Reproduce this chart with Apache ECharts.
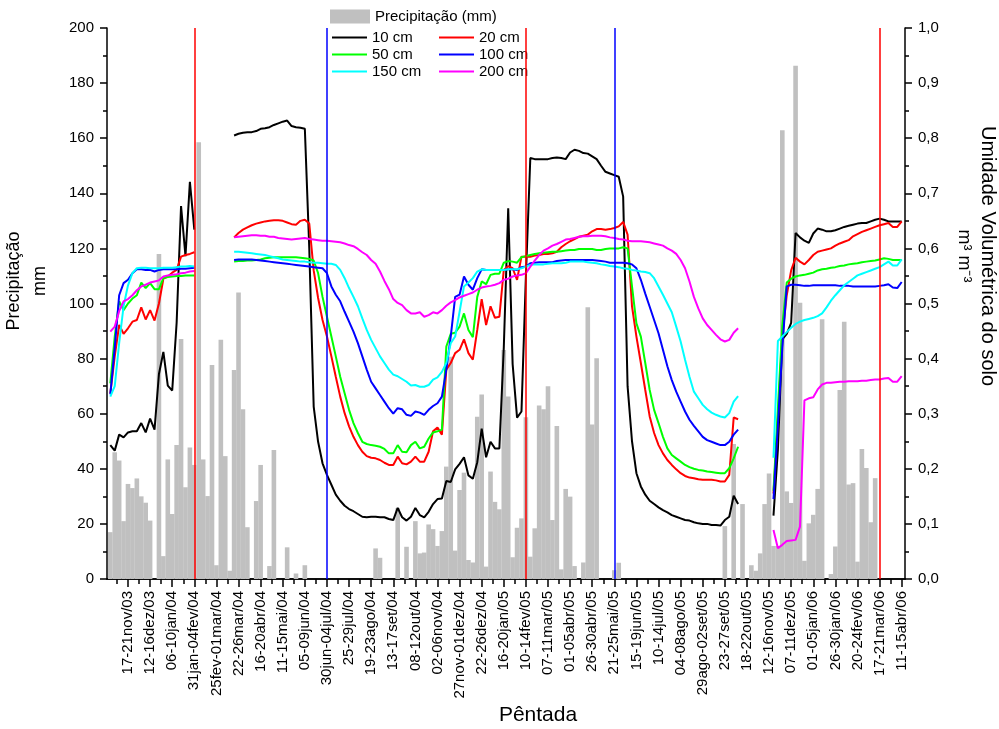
<!DOCTYPE html>
<html>
<head>
<meta charset="utf-8">
<script src="https://cdn.jsdelivr.net/npm/echarts@6.0.0/dist/echarts.min.js"></script>
<style>
  html, body { margin: 0; padding: 0; background: #fff; }
  #main { width: 999px; height: 729px; }
</style>
</head>
<body>
<div id="main"></div>
<script>
// pentads are numbered from 17-21nov/03 = 0; the first value is pentad -4
var firstPentad = -4

var tickLabels = ['17-21nov/03', '12-16dez/03', '06-10jan/04', '31jan-04fev/04', '25fev-01mar/04',
  '22-26mar/04', '16-20abr/04', '11-15mai/04', '05-09jun/04', '30jun-04jul/04', '25-29jul/04',
  '19-23ago/04', '13-17set/04', '08-12out/04', '02-06nov/04', '27nov-01dez/04', '22-26dez/04',
  '16-20jan/05', '10-14fev/05', '07-11mar/05', '01-05abr/05', '26-30abr/05', '21-25mai/05',
  '15-19jun/05', '10-14jul/05', '04-08ago/05', '29ago-02set/05', '23-27set/05', '18-22out/05',
  '12-16nov/05', '07-11dez/05', '01-05jan/06', '26-30jan/06', '20-24fev/06', '17-21mar/06',
  '11-15abr/06']

// precipitation per pentad (mm)
var precip = [
  17, 46, 43, 21, 34.5, 33, 36.5, 30, 27.7, 21.2,
  0, 118, 8.3, 43.4, 23.6, 48.6, 87.1, 33.3, 47.7, 41.4,
  158.5, 43.4, 30.1, 77.7, 5, 86.8, 44.6, 3, 75.9, 104,
  61.6, 18.8, 0, 28.3, 41.4, 0, 4.7, 46.8, 0, 0,
  11.5, 0, 2, 0, 5, 0, 0, 0, 0, 0,
  0, 0, 0, 0, 0, 0, 0, 0, 0, 0,
  11.1, 7.7, 0, 0, 0, 25.7, 0, 11.7, 0, 21,
  9.3, 9.6, 19.8, 18.1, 12, 17.4, 40.8, 80.7, 10.3, 32.3,
  38.6, 6.9, 6, 58.9, 67, 4.5, 39, 28, 25.3, 83.1,
  66.2, 7.9, 18.6, 22, 58.7, 8.1, 18.4, 63, 61.6, 70,
  21.4, 55.5, 3.5, 32.7, 29.9, 4.7, 0, 6, 98.6, 56.1,
  80.1, 0, 0, 0, 3.2, 5.9, 0, 0, 0, 0,
  0, 0, 0, 0, 0, 0, 0, 0, 0, 0,
  0, 0, 0, 0, 0, 0, 0, 0, 0, 19.2,
  0, 49, 0, 27.2, 0, 5, 3, 9.3, 27.2, 38.3,
  12, 12, 162.9, 31.8, 27.6, 186.3, 100.3, 6.6, 20.2, 23.3,
  32.7, 94.3, 0, 1.8, 11.8, 68.6, 93.4, 34.3, 34.8, 6.3,
  47.2, 40.3, 20.6, 36.6, 0, 0, 0, 0, 0, 0
]

// soil moisture (m3 m-3) per depth
var h10 = [
  0.243, 0.233, 0.262, 0.257, 0.266, 0.268, 0.268, 0.283, 0.266, 0.291,
  0.271, 0.372, 0.412, 0.351, 0.342, 0.465, 0.677, 0.586, 0.721, 0.634,
  null, null, null, null, null, null, null, null,
  0.805, 0.808, 0.810, 0.811, 0.811, 0.813, 0.817, 0.818, 0.820, 0.824,
  0.827, 0.830, 0.832, 0.822, 0.820, 0.819, 0.817, 0.600, 0.313, 0.249,
  0.210, 0.189, 0.171, 0.153, 0.142, 0.133, 0.127, 0.123, 0.118, 0.113,
  0.112, 0.113, 0.113, 0.112, 0.112, 0.109, 0.107, 0.129, 0.112, 0.106,
  0.113, 0.129, 0.116, 0.112, 0.122, 0.136, 0.145, 0.146, 0.178, 0.176,
  0.199, 0.209, 0.221, 0.188, 0.182, 0.212, 0.273, 0.221, 0.249, 0.237,
  0.237, 0.420, 0.673, 0.390, 0.293, 0.304, 0.550, 0.764, 0.762, 0.762,
  0.762, 0.762, 0.764, 0.765, 0.764, 0.762, 0.774, 0.779, 0.777, 0.773,
  0.772, 0.767, 0.762, 0.750, 0.739, 0.736, 0.733, 0.730, 0.694, 0.350,
  0.250, 0.192, 0.168, 0.153, 0.142, 0.136, 0.130, 0.125, 0.121, 0.116,
  0.113, 0.110, 0.107, 0.106, 0.103, 0.101, 0.100, 0.100, 0.098, 0.098,
  0.097, 0.107, 0.113, 0.151, 0.136,
  null, null, null, null, null, null, null,
  0.115, 0.235, 0.435, 0.445, 0.465, 0.628, 0.620, 0.614, 0.610, 0.627,
  0.636, 0.634, 0.631, 0.631, 0.633, 0.636, 0.639, 0.641, 0.643, 0.645,
  0.646, 0.646, 0.649, 0.652, 0.654, 0.652, 0.649, 0.649, 0.649, 0.649
]
var h20 = [
  0.337, 0.404, 0.461, 0.445, 0.455, 0.467, 0.470, 0.493, 0.471, 0.488,
  0.469, 0.500, 0.545, 0.549, 0.556, 0.561, 0.585, 0.588, 0.590, 0.593,
  null, null, null, null, null, null, null, null,
  0.620, 0.628, 0.634, 0.638, 0.642, 0.645, 0.647, 0.649, 0.650, 0.651,
  0.651, 0.650, 0.647, 0.644, 0.643, 0.650, 0.652, 0.645, 0.560, 0.510,
  0.470, 0.440, 0.404, 0.367, 0.331, 0.301, 0.277, 0.258, 0.243, 0.231,
  0.223, 0.220, 0.219, 0.216, 0.211, 0.207, 0.207, 0.222, 0.210, 0.208,
  0.213, 0.222, 0.213, 0.213, 0.231, 0.268, 0.275, 0.262, 0.380, 0.392,
  0.410, 0.416, 0.435, 0.410, 0.398, 0.452, 0.508, 0.461, 0.495, 0.474,
  0.476, 0.561, 0.568, 0.564, 0.543, 0.585, 0.585, 0.585, 0.587, 0.588,
  0.590, 0.590, 0.591, 0.594, 0.602, 0.608, 0.613, 0.617, 0.621, 0.623,
  0.625, 0.631, 0.635, 0.635, 0.634, 0.635, 0.637, 0.640, 0.648, 0.625,
  0.495, 0.440, 0.392, 0.343, 0.295, 0.265, 0.243, 0.228, 0.216, 0.207,
  0.199, 0.192, 0.187, 0.184, 0.183, 0.181, 0.180, 0.180, 0.180, 0.179,
  0.177, 0.177, 0.189, 0.293, 0.290,
  null, null, null, null, null, null, null,
  0.155, 0.290, 0.440, 0.515, 0.560, 0.583, 0.576, 0.571, 0.579, 0.588,
  0.594, 0.596, 0.598, 0.600, 0.605, 0.609, 0.612, 0.615, 0.622, 0.626,
  0.630, 0.633, 0.636, 0.639, 0.642, 0.644, 0.646, 0.639, 0.639, 0.649
]
var h50 = [
  0.355, 0.440, 0.504, 0.488, 0.500, 0.509, 0.515, 0.538, 0.528, 0.537,
  0.526, 0.526, 0.546, 0.548, 0.549, 0.550, 0.550, 0.551, 0.551, 0.551,
  null, null, null, null, null, null, null, null,
  0.576, 0.577, 0.577, 0.578, 0.578, 0.579, 0.580, 0.582, 0.583, 0.584,
  0.584, 0.584, 0.584, 0.584, 0.584, 0.583, 0.582, 0.581, 0.578, 0.555,
  0.512, 0.476, 0.440, 0.404, 0.367, 0.337, 0.307, 0.283, 0.265, 0.249,
  0.245, 0.243, 0.242, 0.240, 0.236, 0.228, 0.228, 0.243, 0.231, 0.230,
  0.243, 0.249, 0.237, 0.240, 0.255, 0.266, 0.268, 0.271, 0.422, 0.445,
  0.447, 0.458, 0.482, 0.452, 0.439, 0.512, 0.540, 0.535, 0.552, 0.554,
  0.554, 0.574, 0.577, 0.576, 0.574, 0.584, 0.586, 0.588, 0.590, 0.591,
  0.592, 0.593, 0.594, 0.594, 0.595, 0.596, 0.597, 0.597, 0.599, 0.599,
  0.599, 0.599, 0.597, 0.597, 0.599, 0.600, 0.600, 0.600, 0.602, 0.600,
  0.531, 0.464, 0.440, 0.392, 0.343, 0.307, 0.283, 0.258, 0.237, 0.225,
  0.219, 0.213, 0.207, 0.203, 0.200, 0.198, 0.197, 0.195, 0.194, 0.193,
  0.192, 0.192, 0.201, 0.219, 0.240,
  null, null, null, null, null, null, null,
  0.160, 0.310, 0.460, 0.538, 0.545, 0.549, 0.551, 0.552, 0.554, 0.556,
  0.560, 0.562, 0.563, 0.565, 0.566, 0.568, 0.569, 0.571, 0.572, 0.573,
  0.575, 0.576, 0.577, 0.578, 0.580, 0.582, 0.581, 0.579, 0.579, 0.579
]
var h100 = [
  0.335, 0.420, 0.515, 0.537, 0.543, 0.555, 0.562, 0.562, 0.561, 0.561,
  0.558, 0.561, 0.562, 0.562, 0.562, 0.562, 0.563, 0.563, 0.564, 0.565,
  null, null, null, null, null, null, null, null,
  0.579, 0.580, 0.580, 0.580, 0.580, 0.579, 0.578, 0.577, 0.576, 0.575,
  0.574, 0.573, 0.572, 0.571, 0.570, 0.569, 0.568, 0.567, 0.566, 0.565,
  0.564, 0.555, 0.531, 0.516, 0.504, 0.485, 0.467, 0.449, 0.428, 0.404,
  0.380, 0.358, 0.346, 0.334, 0.322, 0.310, 0.300, 0.310, 0.308, 0.298,
  0.296, 0.304, 0.302, 0.298, 0.307, 0.314, 0.319, 0.331, 0.380, 0.440,
  0.512, 0.516, 0.549, 0.534, 0.525, 0.546, 0.562, 0.561, 0.561, 0.561,
  0.561, 0.561, 0.562, 0.562, 0.561, 0.566, 0.567, 0.573, 0.574, 0.575,
  0.575, 0.575, 0.575, 0.577, 0.578, 0.579, 0.579, 0.579, 0.579, 0.579,
  0.579, 0.579, 0.578, 0.577, 0.576, 0.574, 0.574, 0.574, 0.574, 0.573,
  0.571, 0.564, 0.543, 0.518, 0.494, 0.470, 0.446, 0.416, 0.386, 0.361,
  0.340, 0.322, 0.304, 0.289, 0.278, 0.268, 0.258, 0.252, 0.249, 0.246,
  0.243, 0.243, 0.249, 0.262, 0.271,
  null, null, null, null, null, null, null,
  0.145, 0.280, 0.420, 0.531, 0.534, 0.534, 0.533, 0.532, 0.532, 0.533,
  0.533, 0.533, 0.533, 0.533, 0.533, 0.532, 0.532, 0.532, 0.531, 0.531,
  0.531, 0.531, 0.531, 0.531, 0.532, 0.533, 0.535, 0.529, 0.528, 0.539
]
var h150 = [
  0.331, 0.350, 0.428, 0.495, 0.533, 0.555, 0.564, 0.565, 0.565, 0.564,
  0.564, 0.564, 0.565, 0.565, 0.565, 0.566, 0.567, 0.567, 0.568, 0.567,
  null, null, null, null, null, null, null, null,
  0.594, 0.594, 0.593, 0.592, 0.591, 0.590, 0.589, 0.588, 0.586, 0.584,
  0.582, 0.580, 0.579, 0.578, 0.577, 0.576, 0.576, 0.575, 0.574, 0.574,
  0.573, 0.572, 0.572, 0.570, 0.561, 0.546, 0.528, 0.512, 0.495, 0.473,
  0.452, 0.434, 0.419, 0.404, 0.392, 0.380, 0.371, 0.368, 0.363, 0.358,
  0.351, 0.352, 0.349, 0.349, 0.352, 0.362, 0.366, 0.376, 0.392, 0.428,
  0.440, 0.485, 0.531, 0.538, 0.546, 0.558, 0.562, 0.561, 0.561, 0.561,
  0.561, 0.561, 0.562, 0.562, 0.562, 0.564, 0.567, 0.570, 0.571, 0.571,
  0.571, 0.572, 0.573, 0.573, 0.573, 0.574, 0.576, 0.576, 0.576, 0.576,
  0.575, 0.574, 0.573, 0.571, 0.570, 0.568, 0.567, 0.566, 0.564, 0.563,
  0.561, 0.560, 0.558, 0.557, 0.555, 0.546, 0.531, 0.516, 0.500, 0.484,
  0.458, 0.431, 0.398, 0.367, 0.340, 0.328, 0.316, 0.308, 0.302, 0.298,
  0.295, 0.293, 0.301, 0.322, 0.332,
  null, null, null, null, null, null, null,
  0.220, 0.432, 0.440, 0.448, 0.456, 0.463, 0.467, 0.470, 0.472, 0.474,
  0.477, 0.482, 0.493, 0.505, 0.515, 0.524, 0.533, 0.539, 0.545, 0.551,
  0.554, 0.557, 0.560, 0.563, 0.566, 0.571, 0.576, 0.569, 0.569, 0.580
]
var h200 = [
  0.449, 0.458, 0.486, 0.504, 0.508, 0.515, 0.524, 0.531, 0.534, 0.538,
  0.540, 0.542, 0.549, 0.551, 0.552, 0.553, 0.555, 0.556, 0.558, 0.559,
  null, null, null, null, null, null, null, null,
  0.620, 0.621, 0.622, 0.623, 0.624, 0.624, 0.623, 0.623, 0.621, 0.621,
  0.619, 0.618, 0.617, 0.616, 0.617, 0.618, 0.619, 0.617, 0.616, 0.615,
  0.614, 0.614, 0.613, 0.612, 0.611, 0.609, 0.606, 0.604, 0.599, 0.593,
  0.588, 0.579, 0.572, 0.558, 0.541, 0.526, 0.508, 0.501, 0.497, 0.488,
  0.482, 0.482, 0.484, 0.476, 0.479, 0.484, 0.482, 0.488, 0.496, 0.502,
  0.506, 0.511, 0.514, 0.517, 0.520, 0.525, 0.529, 0.531, 0.532, 0.534,
  0.537, 0.543, 0.545, 0.549, 0.551, 0.552, 0.555, 0.567, 0.578, 0.588,
  0.596, 0.600, 0.605, 0.608, 0.612, 0.616, 0.617, 0.619, 0.621, 0.622,
  0.622, 0.623, 0.623, 0.623, 0.622, 0.620, 0.619, 0.617, 0.616, 0.614,
  0.613, 0.613, 0.613, 0.612, 0.611, 0.609, 0.607, 0.605, 0.600, 0.596,
  0.590, 0.579, 0.564, 0.540, 0.512, 0.491, 0.473, 0.461, 0.452, 0.443,
  0.435, 0.431, 0.434, 0.447, 0.455,
  null, null, null, null, null, null, null,
  0.089, 0.056, 0.062, 0.069, 0.070, 0.071, 0.095, 0.324, 0.328, 0.330,
  0.344, 0.353, 0.356, 0.356, 0.357, 0.358, 0.358, 0.359, 0.359, 0.359,
  0.360, 0.360, 0.361, 0.362, 0.362, 0.364, 0.365, 0.358, 0.358, 0.368
]

// vertical marker lines (pentad numbers)
var redMarks = [15, 90, 170]
var blueMarks = [45, 110]

var font = "'Liberation Sans', Arial, sans-serif"

function pairs(arr) {
  return arr.map(function (v, k) { return [k + firstPentad, v === null ? '-' : v] })
}

var majorTicks = tickLabels.map(function (t, k) { return k * 5 })
var minorTicks = [-2.5].concat(majorTicks.slice(0, -1).map(function (v) { return v + 2.5 }))

function lineSeries(name, color, data) {
  return {
    name: name,
    type: 'line',
    xAxisIndex: 0,
    yAxisIndex: 1,
    symbol: 'none',
    connectNulls: false,
    lineStyle: { color: color, width: 2 },
    itemStyle: { color: color },
    data: pairs(data),
    z: 3
  }
}

var marks = redMarks.map(function (x) { return { xAxis: x, lineStyle: { color: '#ff0000' } } })
  .concat(blueMarks.map(function (x) { return { xAxis: x, lineStyle: { color: '#0000ff' } } }))

var legendText = { fontSize: 15, fontFamily: font, color: '#000' }

var myChart = echarts.init(document.getElementById('main'))
myChart.setOption({
  animation: false,
  textStyle: { fontFamily: font, color: '#000' },
  grid: { left: 107, right: 94, top: 28, bottom: 150 },
  legend: [
    {
      data: ['Precipitação (mm)'], left: 330, top: 9, padding: 0,
      itemWidth: 40, itemHeight: 14, icon: 'rect', textStyle: legendText
    },
    {
      data: ['10 cm', '50 cm', '150 cm'], orient: 'vertical', left: 332, top: 30, padding: 0,
      icon: 'rect', itemWidth: 35, itemHeight: 2, itemGap: 2, textStyle: legendText
    },
    {
      data: ['20 cm', '100 cm', '200 cm'], orient: 'vertical', left: 439, top: 30, padding: 0,
      icon: 'rect', itemWidth: 35, itemHeight: 2, itemGap: 2, textStyle: legendText
    }
  ],
  xAxis: [
    {
      type: 'value', min: -4.75, max: 175.75,
      axisLine: { onZero: false, lineStyle: { color: '#000', width: 1.5 } },
      axisTick: { customValues: majorTicks, length: 8, lineStyle: { color: '#000', width: 1.5 } },
      axisLabel: {
        customValues: majorTicks, rotate: 90, margin: 12, fontSize: 15, fontFamily: font, color: '#000',
        formatter: function (v) { return tickLabels[Math.round(v / 5)] || '' }
      },
      splitLine: { show: false }
    },
    {
      type: 'value', min: -4.75, max: 175.75, position: 'bottom',
      axisLine: { show: true, onZero: false, lineStyle: { color: '#000', width: 1.5 } },
      axisTick: { customValues: minorTicks, length: 5, lineStyle: { color: '#000', width: 1.5 } },
      axisLabel: { show: false },
      splitLine: { show: false }
    }
  ],
  yAxis: [
    {
      type: 'value', min: 0, max: 200, interval: 20,
      axisLine: { show: true, onZero: false, lineStyle: { color: '#000', width: 1.5 } },
      axisTick: { show: true, length: 7, lineStyle: { color: '#000', width: 1.5 } },
      minorTick: { show: true, splitNumber: 2, length: 4, lineStyle: { color: '#000', width: 1.5 } },
      axisLabel: { margin: 13, fontSize: 15, fontFamily: font, color: '#000' },
      splitLine: { show: false }
    },
    {
      type: 'value', min: 0, max: 1, interval: 0.1, position: 'right',
      axisLine: { show: true, onZero: false, lineStyle: { color: '#000', width: 1.5 } },
      axisTick: { show: true, length: 7, lineStyle: { color: '#000', width: 1.5 } },
      minorTick: { show: true, splitNumber: 2, length: 4, lineStyle: { color: '#000', width: 1.5 } },
      axisLabel: {
        margin: 13, fontSize: 15, fontFamily: font, color: '#000',
        formatter: function (v) { return v.toFixed(1).replace('.', ',') }
      },
      splitLine: { show: false }
    }
  ],
  graphic: [
    { type: 'text', x: 14, y: 281, rotation: Math.PI / 2,
      style: { text: 'Precipitação', font: '18px ' + font, fill: '#000', textAlign: 'center', textVerticalAlign: 'middle' } },
    { type: 'text', x: 40, y: 281, rotation: Math.PI / 2,
      style: { text: 'mm', font: '18px ' + font, fill: '#000', textAlign: 'center', textVerticalAlign: 'middle' } },
    { type: 'text', x: 988, y: 256, rotation: -Math.PI / 2,
      style: { text: 'Umidade Volumétrica do solo', font: '20px ' + font, fill: '#000', textAlign: 'center', textVerticalAlign: 'middle' } },
    { type: 'text', x: 964, y: 256, rotation: -Math.PI / 2,
      style: { text: 'm³ m⁻³', font: '18px ' + font, fill: '#000', textAlign: 'center', textVerticalAlign: 'middle' } },
    { type: 'text', x: 538, y: 715,
      style: { text: 'Pêntada', font: '21px ' + font, fill: '#000', textAlign: 'center', textVerticalAlign: 'middle' } }
  ],
  series: [
    {
      name: 'Precipitação (mm)',
      type: 'bar',
      xAxisIndex: 0,
      yAxisIndex: 0,
      barWidth: 4.6,
      itemStyle: { color: '#c0c0c0' },
      data: pairs(precip),
      z: 1,
      markLine: {
        silent: true,
        symbol: ['none', 'none'],
        label: { show: false },
        lineStyle: { type: 'solid', width: 1.5 },
        data: marks
      }
    },
    lineSeries('10 cm', '#000000', h10),
    lineSeries('20 cm', '#ff0000', h20),
    lineSeries('50 cm', '#00ff00', h50),
    lineSeries('100 cm', '#0000ff', h100),
    lineSeries('150 cm', '#00ffff', h150),
    lineSeries('200 cm', '#ff00ff', h200)
  ]
})
</script>
</body>
</html>
